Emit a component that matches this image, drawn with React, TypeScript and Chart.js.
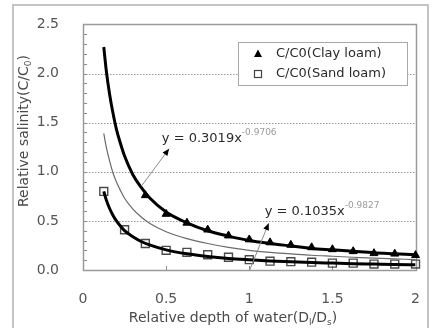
import React, { useEffect, useRef } from 'react';
import { Chart, registerables } from 'chart.js';
Chart.register(...registerables);

// ---- data ----
const CURVE_X = [0.125, 0.14, 0.16, 0.18, 0.2, 0.225, 0.25, 0.3, 0.35, 0.4, 0.5, 0.625, 0.75, 0.875, 1.0, 1.125, 1.25, 1.375, 1.5, 1.625, 1.75, 1.875, 2.0];
const CLAY_FIT = [2.27, 2.03, 1.79, 1.60, 1.44, 1.29, 1.16, 0.97, 0.84, 0.735, 0.59, 0.48, 0.40, 0.345, 0.30, 0.27, 0.245, 0.22, 0.205, 0.19, 0.175, 0.165, 0.155];
const SAND_FIT = [0.80, 0.714, 0.626, 0.558, 0.503, 0.448, 0.40, 0.338, 0.29, 0.255, 0.205, 0.165, 0.138, 0.118, 0.104, 0.092, 0.083, 0.076, 0.07, 0.064, 0.06, 0.056, 0.053];
const MID_CURVE = [1.39, 1.25, 1.11, 0.99, 0.90, 0.81, 0.73, 0.62, 0.54, 0.477, 0.39, 0.32, 0.27, 0.23, 0.20, 0.18, 0.165, 0.15, 0.14, 0.13, 0.12, 0.113, 0.106];

const CLAY_X = [0.375, 0.5, 0.625, 0.75, 0.875, 1.0, 1.125, 1.25, 1.375, 1.5, 1.625, 1.75, 1.875, 2.0];
const CLAY_VALUES = [0.76, 0.57, 0.48, 0.41, 0.35, 0.31, 0.28, 0.255, 0.23, 0.21, 0.19, 0.17, 0.165, 0.15];

const SAND_X = [0.125, 0.25, 0.375, 0.5, 0.625, 0.75, 0.875, 1.0, 1.125, 1.25, 1.375, 1.5, 1.625, 1.75, 1.875, 2.0];
const SAND_VALUES = [0.80, 0.41, 0.27, 0.20, 0.18, 0.155, 0.13, 0.105, 0.09, 0.085, 0.08, 0.07, 0.07, 0.06, 0.06, 0.06];

const SERIES_LABELS = ['C/C0(Clay loam)', 'C/C0(Sand loam)'];
const X_TICKS = [0, 0.5, 1, 1.5, 2];
const X_TICK_LABELS = ['0', '0.5', '1', '1.5', '2'];
const Y_TICKS = [0, 0.5, 1, 1.5, 2, 2.5];
const Y_TICK_LABELS = ['0.0', '0.5', '1.0', '1.5', '2.0', '2.5'];

const EQ_CLAY = { base: 'y = 0.3019x', exp: '-0.9706' };
const EQ_SAND = { base: 'y = 0.1035x', exp: '-0.9827' };

// annotation anchors (data coordinates)
const ANN_CLAY = { text: [0.474, 1.35], from: [0.354, 0.86], to: [0.518, 1.235] };
const ANN_SAND = { text: [1.093, 0.61], from: [1.0, -0.01], to: [1.117, 0.476] };

const FONT = '"DejaVu Sans", sans-serif';

type Seg = { t: string; size: number; dy?: number; color?: string };
function drawRich(ctx: CanvasRenderingContext2D, segs: Seg[], x: number, y: number, align: 'left' | 'center') {
  let total = 0;
  const widths = segs.map((s) => {
    ctx.font = `${s.size}px ${FONT}`;
    const w = ctx.measureText(s.t).width;
    total += w;
    return w;
  });
  let cx = align === 'center' ? x - total / 2 : x;
  ctx.textAlign = 'left';
  ctx.textBaseline = 'alphabetic';
  segs.forEach((s, i) => {
    ctx.font = `${s.size}px ${FONT}`;
    if (s.color) ctx.fillStyle = s.color;
    ctx.fillText(s.t, cx, y + (s.dy || 0));
    cx += widths[i];
  });
}

const decorPlugin = {
  id: 'decor',
  beforeDraw(chart: any) {
    const { ctx, width, height } = chart;
    ctx.save();
    ctx.fillStyle = '#ffffff';
    ctx.fillRect(0, 0, width, height);
    ctx.strokeStyle = '#c4c4c4';
    ctx.lineWidth = 2;
    ctx.strokeRect(13, 5, 415, 340);
    ctx.restore();
  },
  beforeDatasetsDraw(chart: any) {
    const { ctx, chartArea: a, scales } = chart;
    const ys = scales.y;
    const xs = scales.x;
    ctx.save();
    // dotted grid
    ctx.strokeStyle = '#9a9a9a';
    ctx.lineWidth = 1;
    ctx.setLineDash([1.5, 1.5]);
    [0.5, 1, 1.5, 2].forEach((v) => {
      const py = Math.round(ys.getPixelForValue(v)) + 0.5;
      ctx.beginPath();
      ctx.moveTo(a.left, py);
      ctx.lineTo(a.right, py);
      ctx.stroke();
    });
    ctx.setLineDash([]);
    // minor ticks on y axis
    ctx.strokeStyle = '#8a8a8a';
    for (let i = 1; i < 25; i++) {
      const py = Math.round(ys.getPixelForValue(i / 10)) + 0.5;
      ctx.beginPath();
      ctx.moveTo(a.left, py);
      ctx.lineTo(a.left + 4, py);
      ctx.stroke();
    }
    [0.5, 1, 1.5].forEach((v) => {
      const px = Math.round(xs.getPixelForValue(v)) + 0.5;
      ctx.beginPath();
      ctx.moveTo(px, a.bottom);
      ctx.lineTo(px, a.bottom - 4);
      ctx.stroke();
    });
    // plot frame
    ctx.strokeStyle = '#9a9a9a';
    ctx.lineWidth = 1.5;
    ctx.strokeRect(Math.round(a.left) + 0.5, Math.round(a.top) + 0.5, Math.round(a.right - a.left), Math.round(a.bottom - a.top));
    ctx.restore();
  },
  afterDatasetsDraw(chart: any) {
    const { ctx, scales } = chart;
    const xs = scales.x;
    const ys = scales.y;
    const P = (p: number[]) => [xs.getPixelForValue(p[0]), ys.getPixelForValue(p[1])];
    ctx.save();
    // arrows
    [ANN_CLAY, ANN_SAND].forEach((ann) => {
      const [x0, y0] = P(ann.from);
      const [x1, y1] = P(ann.to);
      ctx.strokeStyle = '#8c8c8c';
      ctx.lineWidth = 1;
      ctx.beginPath();
      ctx.moveTo(x0, y0);
      ctx.lineTo(x1, y1);
      ctx.stroke();
      const ang = Math.atan2(y1 - y0, x1 - x0);
      const L = 7, W = 3;
      ctx.fillStyle = '#000';
      ctx.beginPath();
      ctx.moveTo(x1, y1);
      ctx.lineTo(x1 - L * Math.cos(ang) + W * Math.sin(ang), y1 - L * Math.sin(ang) - W * Math.cos(ang));
      ctx.lineTo(x1 - L * Math.cos(ang) - W * Math.sin(ang), y1 - L * Math.sin(ang) + W * Math.cos(ang));
      ctx.closePath();
      ctx.fill();
    });
    // equations
    [[ANN_CLAY, EQ_CLAY], [ANN_SAND, EQ_SAND]].forEach(([ann, eq]: any) => {
      const [tx, ty] = P(ann.text);
      drawRich(ctx, [
        { t: eq.base, size: 13, color: '#2a2a2a' },
        { t: eq.exp, size: 9, dy: -7, color: '#9a9a9a' },
      ], tx, ty + 5, 'left');
    });
    // legend
    ctx.fillStyle = '#ffffff';
    ctx.fillRect(238, 42, 169, 43);
    ctx.strokeStyle = '#a8a8a8';
    ctx.lineWidth = 1;
    ctx.strokeRect(238.5, 42.5, 169, 43);
    const rows = [54, 74];
    ctx.fillStyle = '#000';
    ctx.beginPath();
    ctx.moveTo(258, rows[0] - 4.5);
    ctx.lineTo(262, rows[0] + 3);
    ctx.lineTo(254, rows[0] + 3);
    ctx.closePath();
    ctx.fill();
    ctx.strokeStyle = '#444';
    ctx.lineWidth = 1.2;
    ctx.strokeRect(254.5, rows[1] - 3.5, 7, 7);
    ctx.fillStyle = '#2a2a2a';
    ctx.font = `13px ${FONT}`;
    ctx.textAlign = 'left';
    ctx.textBaseline = 'middle';
    ctx.fillText(SERIES_LABELS[0], 276, rows[0]);
    ctx.fillText(SERIES_LABELS[1], 276, rows[1]);
    // axis titles
    ctx.fillStyle = '#4a4a4a';
    drawRich(ctx, [
      { t: 'Relative depth of water(D', size: 14 },
      { t: 'l', size: 9, dy: 3 },
      { t: '/D', size: 14 },
      { t: 's', size: 9, dy: 3 },
      { t: ')', size: 14 },
    ], 233, 322, 'center');
    ctx.save();
    ctx.translate(28, 131);
    ctx.rotate(-Math.PI / 2);
    drawRich(ctx, [
      { t: 'Relative salinity(C/C', size: 14 },
      { t: '0', size: 9, dy: 3 },
      { t: ')', size: 14 },
    ], 0, 0, 'center');
    ctx.restore();
    ctx.restore();
  },
};

export default function App() {
  const ref = useRef<HTMLCanvasElement | null>(null);
  useEffect(() => {
    if (!ref.current) return;
    const pts = (xs: number[], ys: number[]) => xs.map((x, i) => ({ x, y: ys[i] }));
    const chart = new Chart(ref.current, {
      type: 'scatter',
      data: {
        datasets: [
          {
            label: 'mid',
            data: pts(CURVE_X, MID_CURVE),
            showLine: true,
            borderColor: '#6a6a6a',
            borderWidth: 1.2,
            pointRadius: 0,
            cubicInterpolationMode: 'monotone',
          },
          {
            label: 'clay fit',
            data: pts(CURVE_X, CLAY_FIT),
            showLine: true,
            borderColor: '#000',
            borderWidth: 3,
            pointRadius: 0,
            cubicInterpolationMode: 'monotone',
          },
          {
            label: 'sand fit',
            data: pts(CURVE_X, SAND_FIT),
            showLine: true,
            borderColor: '#000',
            borderWidth: 3,
            pointRadius: 0,
            cubicInterpolationMode: 'monotone',
          },
          {
            label: SERIES_LABELS[0],
            data: pts(CLAY_X, CLAY_VALUES),
            showLine: false,
            pointStyle: 'triangle',
            pointRadius: 4.6,
            backgroundColor: '#000',
            borderColor: '#000',
            borderWidth: 1,
            clip: false,
          },
          {
            label: SERIES_LABELS[1],
            data: pts(SAND_X, SAND_VALUES),
            showLine: false,
            pointStyle: 'rect',
            pointRadius: 5.6,
            backgroundColor: 'rgba(255,255,255,0)',
            borderColor: '#4a4a4a',
            borderWidth: 1.4,
            clip: false,
          },
        ],
      } as any,
      options: {
        animation: false,
        responsive: false,
        maintainAspectRatio: false,
        layout: { padding: { top: 23, right: 17, left: 0, bottom: 0 } },
        plugins: { legend: { display: false }, tooltip: { enabled: false }, title: { display: false } },
        scales: {
          x: {
            type: 'linear',
            min: 0,
            max: 2,
            afterFit: (s: any) => { s.height = 58; },
            afterBuildTicks: (s: any) => { s.ticks = X_TICKS.map((v) => ({ value: v })); },
            ticks: {
              callback: (v: any) => X_TICK_LABELS[X_TICKS.indexOf(Number(v))] ?? '',
              color: '#555',
              font: { family: FONT, size: 14 },
              padding: 13,
              maxRotation: 0,
            },
            grid: { display: false },
            border: { display: false },
          },
          y: {
            type: 'linear',
            min: 0,
            max: 2.5,
            afterFit: (s: any) => { s.width = 83; },
            afterBuildTicks: (s: any) => { s.ticks = Y_TICKS.map((v) => ({ value: v })); },
            ticks: {
              callback: (v: any) => Y_TICK_LABELS[Y_TICKS.indexOf(Number(v))] ?? '',
              color: '#555',
              font: { family: FONT, size: 14 },
              padding: 16,
            },
            grid: { display: false },
            border: { display: false },
          },
        },
      } as any,
      plugins: [decorPlugin],
    });
    return () => chart.destroy();
  }, []);
  return (
    <div style={{ position: 'fixed', left: 0, top: 0, width: 433, height: 328 }}>
      <canvas ref={ref} width={433} height={328} style={{ width: 433, height: 328, display: 'block' }} />
    </div>
  );
}
